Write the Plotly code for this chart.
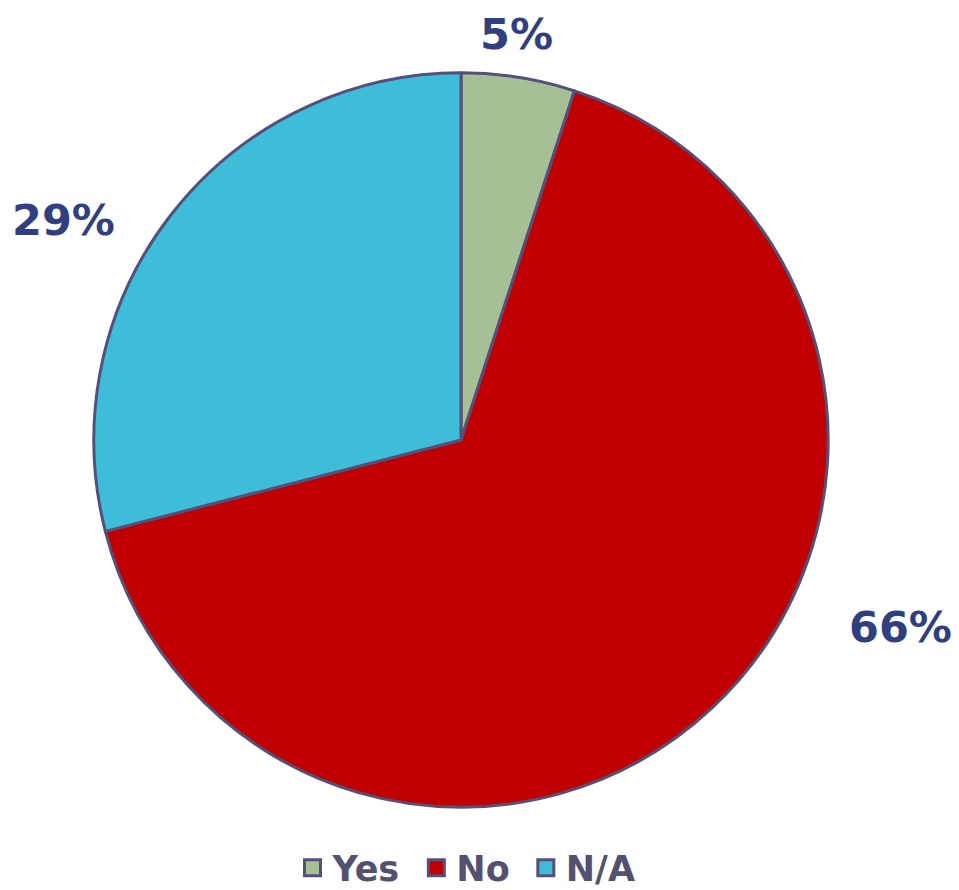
import plotly.graph_objects as go

categories = ["Yes", "No", "N/A"]
values = [5, 66, 29]
colors = ["#A6C096", "#C00000", "#3DBDD8"]
label_text = ["5%", "66%", "29%"]

W, H = 959, 890
OFF = 8  # page body margin
# label anchor positions (screen px) and vertical anchors, layout only
label_px = [(516, 8), (900, 628), (63, 220)]
label_yanchor = ["top", "middle", "middle"]

fig = go.Figure()
fig.add_trace(go.Pie(
    labels=categories,
    values=values,
    sort=False,
    direction="clockwise",
    rotation=0,
    marker=dict(colors=colors, line=dict(color="#55507A", width=3)),
    textinfo="none",
    hoverinfo="label+percent",
    showlegend=False,
    domain=dict(x=[85 / W, 821 / W], y=[89 / H, 825 / H]),
))

# legend entries
for c, col in zip(categories, colors):
    fig.add_trace(go.Scatter(
        x=[None], y=[None], mode="markers", name="<b>" + c + "</b>\u00a0",
        marker=dict(symbol="square", size=16, color=col, line=dict(color="#55507A", width=3)),
        showlegend=True, hoverinfo="skip",
    ))

for t, (px, py), ya in zip(label_text, label_px, label_yanchor):
    fig.add_annotation(x=(px - OFF) / W, y=1 - (py - OFF) / H, xref="paper", yref="paper",
                       text="<b>" + t + "</b>", showarrow=False, borderpad=0,
                       font=dict(family="DejaVu Sans", size=43, color="#2F3F7F"),
                       xanchor="center", yanchor=ya)

fig.update_layout(
    width=W, height=H,
    margin=dict(l=0, r=0, t=0, b=0),
    paper_bgcolor="white",
    plot_bgcolor="white",
    xaxis=dict(visible=False),
    yaxis=dict(visible=False),
    showlegend=True,
    legend=dict(orientation="h", x=(472 - OFF) / W, xanchor="center", y=1 - (870 - OFF) / H, yanchor="middle",
                font=dict(family="DejaVu Sans", size=35, color="#545070"),
                itemsizing="trace", tracegroupgap=0),
    font=dict(family="DejaVu Sans"),
)
fig.write_html("out.html")
